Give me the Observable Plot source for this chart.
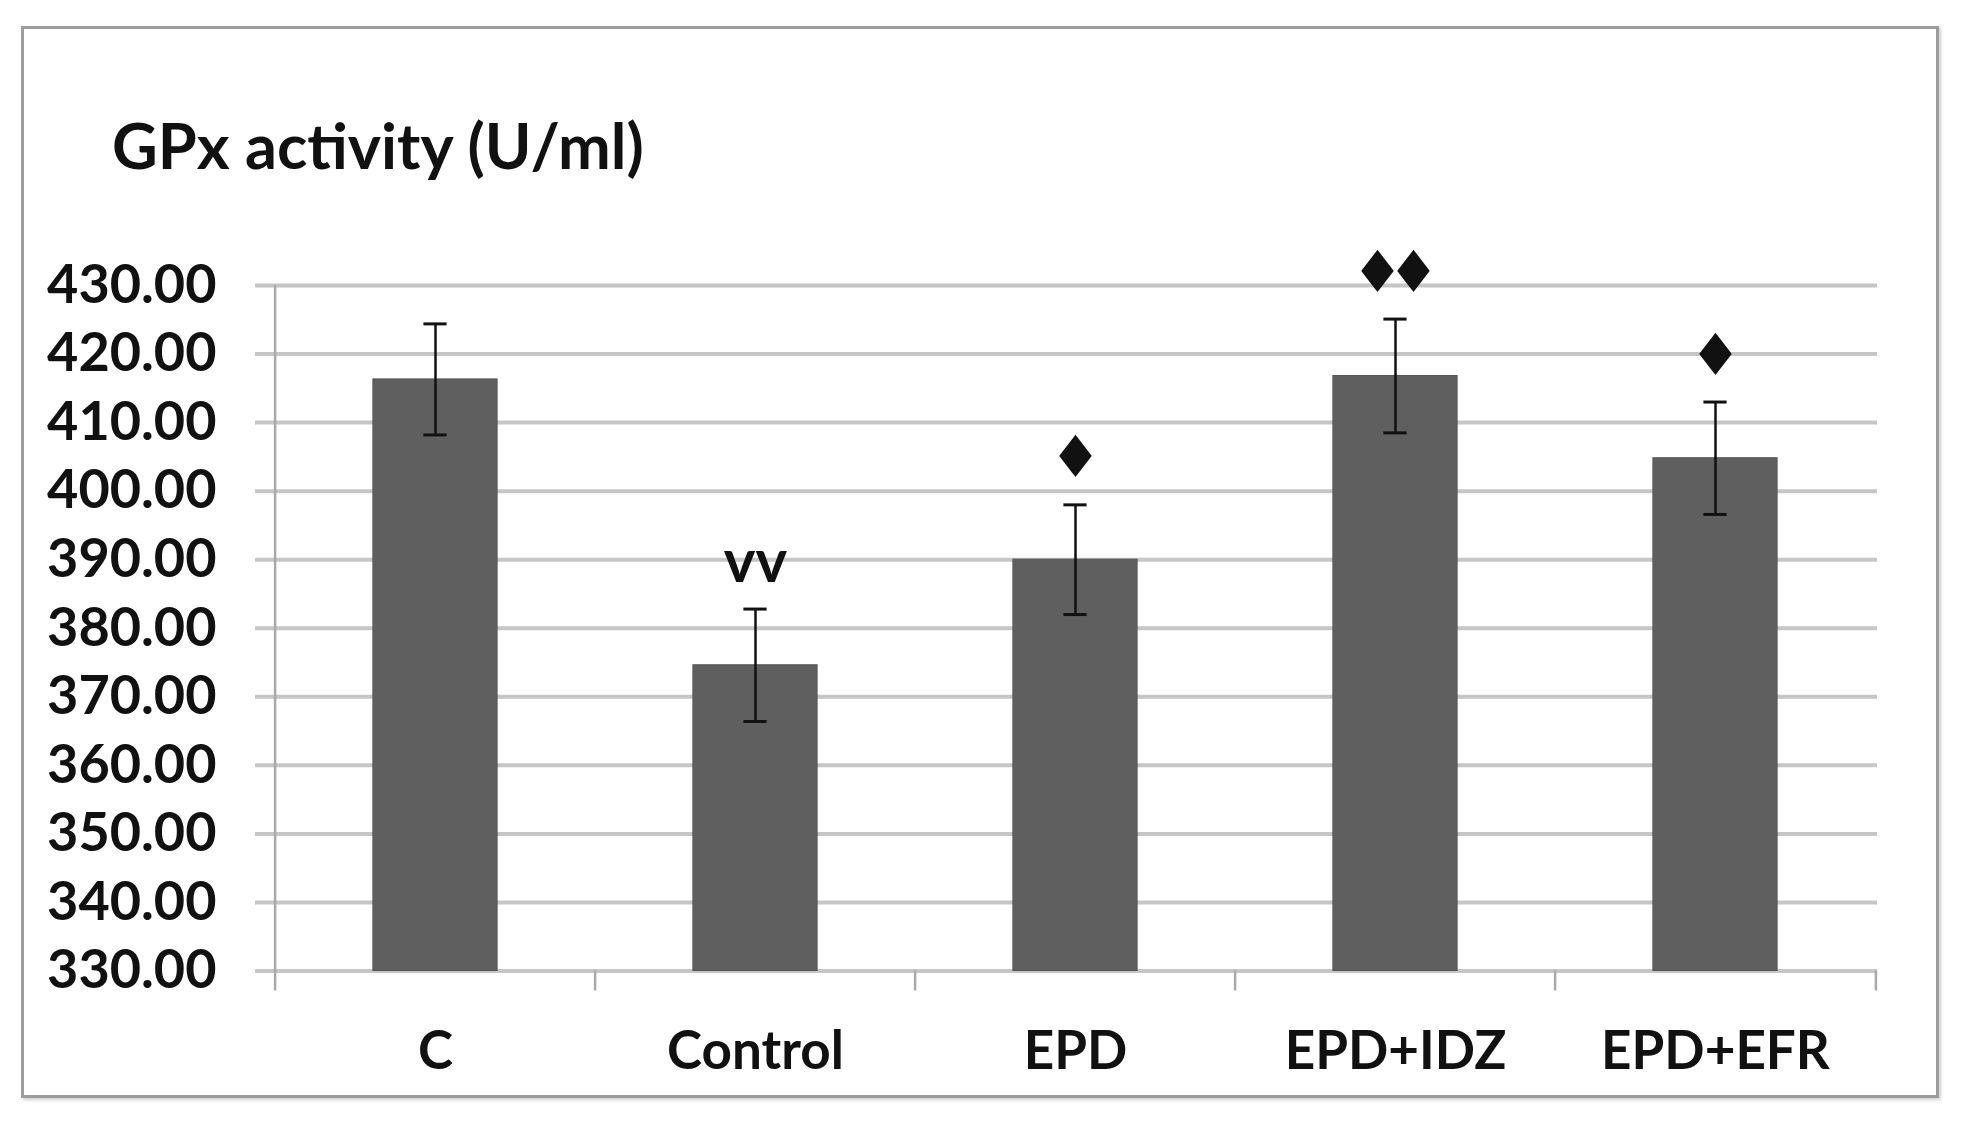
<!DOCTYPE html>
<html>
<head>
<meta charset="utf-8">
<script src="https://cdn.jsdelivr.net/npm/d3@7"></script>
<script src="https://cdn.jsdelivr.net/npm/@observablehq/plot@0.6"></script>
<style>
  html, body { margin: 0; padding: 0; background: #fff; }
  #page { position: relative; width: 1966px; height: 1125px; overflow: hidden; background: #fff; }
  #frame { position: absolute; left: 21px; top: 26px; width: 1912px; height: 1066px; border: 3px solid #9c9c9c; box-shadow: 2px 2px 3px #d0d0d0; }
  #title { position: absolute; left: 112px; top: 113px; font-family: Lato, "Open Sans", sans-serif; font-weight: bold; font-size: 63px; line-height: 63px; color: #111; white-space: nowrap; }
  #chart { position: absolute; left: 0; top: 180px; }
  #chart svg { overflow: visible; }
</style>
</head>
<body>
<div id="page">
  <div id="frame"></div>
  <div id="title">GPx activity (U/ml)</div>
  <div id="chart"></div>
</div>
<script>
const categories = ["C", "Control", "EPD", "EPD+IDZ", "EPD+EFR"];
const means = [416.3, 374.6, 390.0, 416.8, 404.8];
const errors = [8.1, 8.2, 8.0, 8.3, 8.2];
const signs = ["", "vv", "\u2666", "\u2666\u2666", "\u2666"];
const yTicks = [330, 340, 350, 360, 370, 380, 390, 400, 410, 420, 430];

const data = categories.map((g, i) => ({
  group: g, mean: means[i], lo: means[i] - errors[i], hi: means[i] + errors[i], sign: signs[i]
}));

const W = 1966, H = 900, ML = 273, MR = 89, MT = 105, MB = 109.5;
const band = (W - ML - MR) / categories.length;
const barW = 125, capW = 24;
const gridColor = "#c6c6c6";

const chart = Plot.plot({
  width: W, height: H,
  marginLeft: ML, marginRight: MR, marginTop: MT, marginBottom: MB,
  style: { fontFamily: "Lato, 'Open Sans', sans-serif", background: "transparent", overflow: "visible" },
  x: { domain: categories, padding: 0, label: null },
  y: { domain: [330, 430], label: null },
  marks: [
    Plot.ruleY(yTicks, { stroke: gridColor, strokeWidth: 4, insetLeft: -18 }),
    // left axis line
    Plot.ruleX([categories[0]], { x: d => d, y1: 430, y2: 330, dx: -band / 2, stroke: "#a9a9a9", strokeWidth: 2.5, insetBottom: -20 }),
    // category boundary ticks
    Plot.ruleX(categories.slice(1), { x: d => d, y1: 330, y2: 330, dx: -band / 2, stroke: "#a9a9a9", strokeWidth: 2.5, insetBottom: -20 }),
    Plot.ruleX([categories[categories.length - 1]], { x: d => d, y1: 330, y2: 330, dx: band / 2, stroke: "#a9a9a9", strokeWidth: 2.5, insetBottom: -20 }),
    Plot.barY(data, { x: "group", y1: 330, y2: "mean", fill: "#5f5f5f", stroke: "#555", strokeWidth: 1, insetLeft: (band - barW) / 2, insetRight: (band - barW) / 2 }),
    Plot.ruleX(data, { x: "group", y1: "lo", y2: "hi", stroke: "#111", strokeWidth: 2.5 }),
    Plot.tickY(data, { x: "group", y: "hi", stroke: "#111", strokeWidth: 3, insetLeft: (band - capW) / 2, insetRight: (band - capW) / 2 }),
    Plot.tickY(data, { x: "group", y: "lo", stroke: "#111", strokeWidth: 3, insetLeft: (band - capW) / 2, insetRight: (band - capW) / 2 }),
    Plot.text(data.filter(d => d.sign === "vv"), { x: "group", y: "hi", text: "sign", dy: -46, fontSize: 60, fontWeight: "bold", fill: "#111", lineAnchor: "middle" }),
    Plot.text(data.filter(d => d.sign.includes("\u2666")), { x: "group", y: "hi", text: "sign", dy: -46, fontSize: 58, fontFamily: "DejaVu Sans", fill: "#111", lineAnchor: "middle" }),
    Plot.axisY({ ticks: yTicks, tickSize: 0, tickPadding: 57, tickFormat: d => d.toFixed(2), fontSize: 54, fontWeight: "bold", fill: "#111", label: null }),
    Plot.axisX({ tickSize: 0, tickPadding: 60, fontSize: 53, fontWeight: "bold", fill: "#111", label: null })
  ]
});
// tighten the spacing between paired diamonds (letter-spacing shifts centre right by 8px; compensate)
d3.select(chart).selectAll("text").filter(function () { return this.textContent.includes("\u2666"); })
  .style("letter-spacing", "-16px").attr("dx", -8);
document.getElementById("chart").appendChild(chart);
</script>
</body>
</html>
